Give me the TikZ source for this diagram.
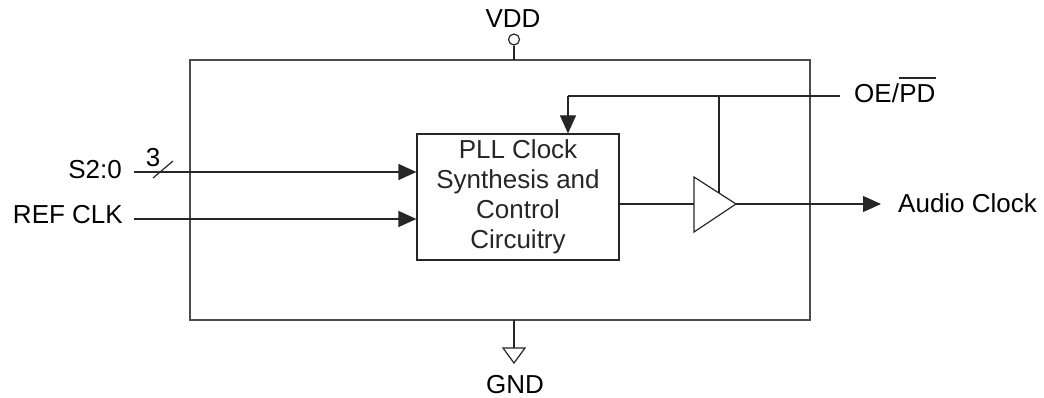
\documentclass[tikz,border=0pt]{standalone}
\usepackage{fontspec}
\setmainfont{Liberation Sans}
\usetikzlibrary{arrows.meta}
\begin{document}
\begin{tikzpicture}[x=1pt,y=-1pt,
  wire/.style={line width=1.2pt,black!85},
  frame/.style={line width=1.3pt,black!70},
  sig/.style={wire,-{Triangle[length=18pt,width=16pt]}},
  lbl/.style={inner sep=0pt,font=\fontsize{26}{30}\selectfont},
  every node/.style={text=black}]
\useasboundingbox (0,0) rectangle (1044,398);
% outer box
\draw[frame] (190,60) rectangle (810,320);
% PLL block
\node[draw,wire,minimum width=202pt,minimum height=126pt,inner sep=0pt,
  align=center,font=\fontsize{26}{30}\selectfont] (pll) at (518,197)
  {PLL Clock\\Synthesis and\\Control\\Circuitry};
% VDD
\coordinate (vddtop) at (514,60);
\node[draw,wire,circle,minimum size=11pt,inner sep=0pt] (vddc) at (514,39.5) {};
\draw[wire] (vddc.south) -- (vddtop);
\node[lbl,anchor=base] (vdd) at (513,28) {VDD};
% GND
\coordinate (gndbot) at (514,320);
\coordinate (gndt) at (514,348);
\draw[wire] (gndbot) -- (gndt);
\draw[wire,line join=miter] (503,348) -- (525,348) -- (514,363) -- cycle;
\node[lbl,anchor=base] (gnd) at (515,393) {GND};
% inputs
\node[lbl,anchor=base east] (s20) at (122,179) {S2:0};
\node[lbl,anchor=base east] (ref) at (123,223) {REF CLK};
\coordinate (s20in) at (134,172);
\coordinate (refin) at (134,219);
\draw[sig] (s20in) -- (pll.west |- s20in);
\draw[sig] (refin) -- (pll.west |- refin);
\draw[wire] (153,178) -- (173,161);
\node[lbl,anchor=base] (three) at (153,167) {3};
% OE/PD
\node[lbl,anchor=base west] (oe) at (854,103) {OE/};
\node[lbl,anchor=base west] (pd) at (oe.base east) {PD};
\draw[wire] ([yshift=7pt]pd.north west) -- ([yshift=7pt]pd.north east);
\coordinate (oein) at (840,96);
\coordinate (oecorner) at (568,96);
\coordinate (oetap) at (719,96);
\draw[wire] (oein) -- (oecorner);
\draw[sig] (oecorner) -- (oecorner |- pll.north);
% buffer
\coordinate (bufa) at (694,177);
\coordinate (bufb) at (694,232);
\coordinate (buftip) at (736,204);
\draw[wire,line join=miter] (bufa) -- (buftip) -- (bufb) -- cycle;
\draw[wire] (oetap) -- (719,193);
\draw[wire] (pll.east |- buftip) -- (694,204);
\coordinate (outend) at (881,204);
\draw[sig] (buftip) -- (outend);
\node[lbl,anchor=base west] (audio) at (898,213) {Audio Clock};
\end{tikzpicture}
\end{document}
